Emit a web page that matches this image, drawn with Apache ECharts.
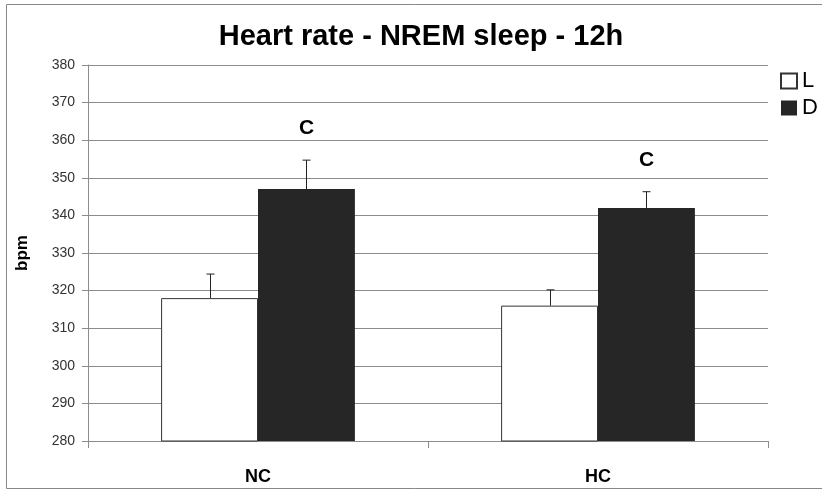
<!DOCTYPE html>
<html>
<head>
<meta charset="utf-8">
<script src="https://cdn.jsdelivr.net/npm/echarts@6/dist/echarts.min.js"></script>
<style>
  html, body { margin: 0; padding: 0; background: #fff; }
  #chart { width: 822px; height: 490px; }
</style>
</head>
<body>
<div id="chart"></div>
<script>
// Groups along the x axis and the two lighting phases
var groups = ['NC', 'HC'];
var phaseNames = ['L', 'D'];

// Mean heart rate (bpm) and standard error per group
var meanL = [318, 316];
var meanD = [347, 342];
var semL = [6.4, 4.2];
var semD = [7.7, 4.3];

// Significance letters above the D bars
var markD = ['C', 'C'];

// y axis range and step
var yMin = 280, yMax = 380, yStep = 10;

var FONT = 'Liberation Sans';
var GRID_COLOR = '#8c8c8c';
var DARK = '#262626';
var CAT_GAP = 0.43;

// Error whisker (upward only) drawn over the bar; side = -1 for L, +1 for D
function whisker(means, sems, side, marks) {
  return function (params, api) {
    var i = params.dataIndex;
    var band = api.size([1, 0])[0];
    var barW = band * (1 - CAT_GAP) / 2;
    var base = api.coord([i, means[i]]);
    var top = api.coord([i, means[i] + sems[i]]);
    var x = Math.round(base[0] + side * barW / 2) + 0.5;
    var cap = 4;
    var children = [
      { type: 'line', shape: { x1: x, y1: base[1], x2: x, y2: top[1] },
        style: { stroke: '#222', lineWidth: 1 } },
      { type: 'line', shape: { x1: x - cap, y1: top[1], x2: x + cap, y2: top[1] },
        style: { stroke: '#222', lineWidth: 1 } }
    ];
    if (marks && marks[i]) {
      children.push({
        type: 'text',
        style: {
          x: x, y: top[1] - 32, text: marks[i],
          textAlign: 'center', textVerticalAlign: 'middle',
          font: 'bold 21px "' + FONT + '"', fill: '#000'
        }
      });
    }
    return { type: 'group', children: children };
  };
}

var chart = echarts.init(document.getElementById('chart'), null, { renderer: 'canvas' });

chart.setOption({
  backgroundColor: '#fff',
  animation: false,
  textStyle: { fontFamily: FONT },
  title: {
    text: 'Heart rate - NREM sleep - 12h',
    left: 416,
    textAlign: 'center',
    top: 17,
    textStyle: { fontFamily: FONT, fontSize: 29, fontWeight: 'bold', color: '#000' }
  },
  graphic: [{
    type: 'rect',
    shape: { x: 6.5, y: 4.5, width: 830, height: 484 },
    style: { fill: 'none', stroke: '#888', lineWidth: 1 },
    silent: true,
    z: -1
  }],
  legend: {
    data: [
      { name: phaseNames[0], icon: 'rect' },
      { name: phaseNames[1], icon: 'rect' }
    ],
    orient: 'vertical',
    left: 775,
    top: 65,
    itemWidth: 16,
    itemHeight: 15,
    itemGap: 5,
    textStyle: { fontFamily: FONT, fontSize: 22, color: '#000' }
  },
  grid: { left: 88, right: 54, top: 65, bottom: 49, containLabel: false },
  xAxis: {
    type: 'category',
    data: groups,
    axisLine: { lineStyle: { color: GRID_COLOR, width: 1 } },
    axisTick: { show: true, length: 7, lineStyle: { color: GRID_COLOR } },
    axisLabel: { margin: 27, fontFamily: FONT, fontSize: 18, fontWeight: 'bold', color: '#000' }
  },
  yAxis: {
    type: 'value',
    name: 'bpm',
    nameLocation: 'middle',
    nameGap: 57,
    nameRotate: 90,
    nameTextStyle: { fontFamily: FONT, fontSize: 17, fontWeight: 'bold', color: '#000' },
    min: yMin, max: yMax, interval: yStep,
    axisLine: { show: true, lineStyle: { color: GRID_COLOR, width: 1 } },
    axisTick: { show: true, length: 6, lineStyle: { color: GRID_COLOR } },
    axisLabel: { margin: 13, fontFamily: FONT, fontSize: 14, color: '#333' },
    splitLine: { show: true, lineStyle: { color: GRID_COLOR, width: 1 } }
  },
  series: [
    {
      name: phaseNames[0],
      type: 'bar',
      data: meanL,
      barGap: 0,
      barCategoryGap: (CAT_GAP * 100) + '%',
      itemStyle: { color: '#fff', borderColor: '#333', borderWidth: 1 }
    },
    {
      name: phaseNames[1],
      type: 'bar',
      data: meanD,
      barGap: 0,
      barCategoryGap: (CAT_GAP * 100) + '%',
      itemStyle: { color: DARK, borderColor: DARK, borderWidth: 0 }
    },
    {
      type: 'custom',
      data: meanL,
      renderItem: whisker(meanL, semL, -1, null),
      z: 5,
      silent: true
    },
    {
      type: 'custom',
      data: meanD,
      renderItem: whisker(meanD, semD, 1, markD),
      z: 5,
      silent: true
    }
  ]
});
</script>
</body>
</html>
